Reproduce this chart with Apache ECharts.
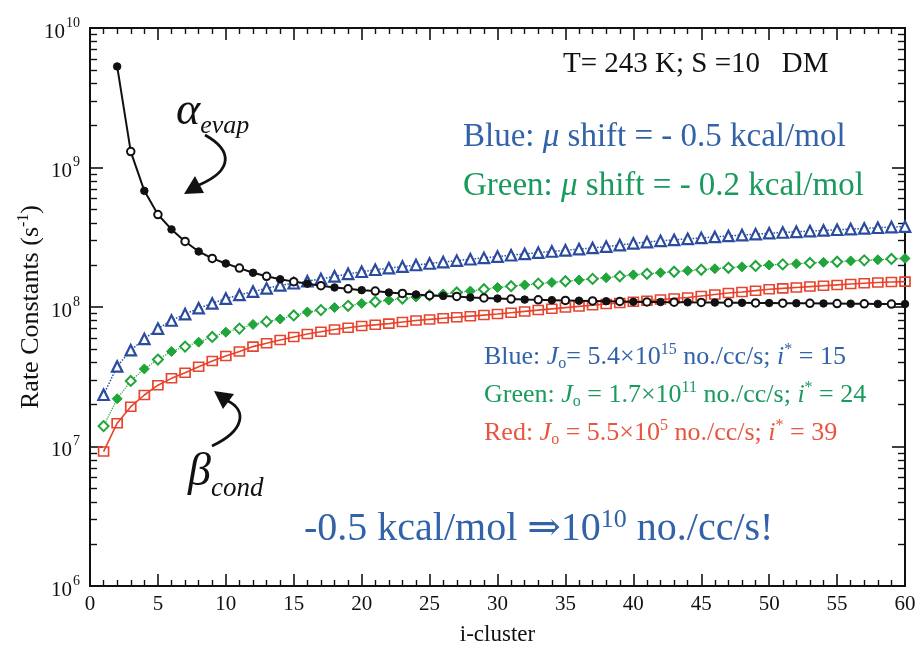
<!DOCTYPE html>
<html>
<head>
<meta charset="utf-8">
<script src="https://cdn.jsdelivr.net/npm/echarts@6/dist/echarts.min.js"></script>
<style>
html,body{margin:0;padding:0;background:#fff;}
#chart{width:916px;height:665px;}
</style>
</head>
<body>
<div id="chart"></div>
<script>
// ---- data ----
const blackStart = 2;
const blackEvap = [5.3e9,1.30e9,6.8e8,4.6e8,3.6e8,2.95e8,2.5e8,2.23e8,2.05e8,1.90e8,
  1.76e8,1.66e8,1.58e8,1.52e8,1.47e8,1.42e8,1.38e8,1.35e8,1.32e8,1.30e8,
  1.27e8,1.25e8,1.23e8,1.21e8,1.20e8,1.19e8,1.17e8,1.16e8,1.15e8,1.14e8,
  1.13e8,1.125e8,1.12e8,1.115e8,1.11e8,1.105e8,1.10e8,1.095e8,1.09e8,
  1.088e8,1.085e8,1.083e8,1.08e8,1.078e8,1.076e8,1.074e8,1.072e8,1.07e8,1.068e8,
  1.066e8,1.064e8,1.062e8,1.06e8,1.058e8,1.056e8,1.054e8,1.052e8,1.05e8,1.05e8];
const condStart = 1;
const blueCond = [2.35e7,3.75e7,4.9e7,5.9e7,7.0e7,8.0e7,8.9e7,9.8e7,1.06e8,1.15e8,
  1.22e8,1.29e8,1.36e8,1.43e8,1.48e8,1.53e8,1.59e8,1.66e8,1.73e8,1.79e8,
  1.85e8,1.90e8,1.95e8,2.0e8,2.05e8,2.10e8,2.15e8,2.20e8,2.25e8,2.30e8,
  2.35e8,2.40e8,2.45e8,2.50e8,2.55e8,2.60e8,2.65e8,2.71e8,2.78e8,2.86e8,
  2.92e8,2.98e8,3.03e8,3.08e8,3.13e8,3.18e8,3.23e8,3.28e8,3.33e8,3.38e8,
  3.42e8,3.46e8,3.50e8,3.54e8,3.58e8,3.62e8,3.66e8,3.70e8,3.74e8,3.77e8];
const greenCond = [1.40e7,2.2e7,2.95e7,3.6e7,4.2e7,4.8e7,5.2e7,5.6e7,6.1e7,6.6e7,
  7.0e7,7.5e7,7.85e7,8.2e7,8.7e7,9.2e7,9.5e7,9.9e7,1.02e8,1.06e8,
  1.09e8,1.12e8,1.15e8,1.18e8,1.21e8,1.24e8,1.27e8,1.30e8,1.34e8,1.38e8,
  1.41e8,1.44e8,1.47e8,1.50e8,1.53e8,1.56e8,1.59e8,1.62e8,1.66e8,1.70e8,
  1.73e8,1.76e8,1.79e8,1.82e8,1.85e8,1.88e8,1.91e8,1.94e8,1.97e8,2.00e8,
  2.02e8,2.04e8,2.07e8,2.09e8,2.11e8,2.14e8,2.16e8,2.18e8,2.21e8,2.23e8];
const redCond = [9.2e6,1.47e7,1.93e7,2.34e7,2.75e7,3.08e7,3.38e7,3.73e7,4.1e7,4.45e7,
  4.8e7,5.2e7,5.5e7,5.8e7,6.1e7,6.4e7,6.65e7,6.9e7,7.1e7,7.3e7,
  7.45e7,7.6e7,7.8e7,8.0e7,8.15e7,8.3e7,8.45e7,8.6e7,8.75e7,8.9e7,
  9.1e7,9.3e7,9.5e7,9.7e7,9.9e7,1.01e8,1.03e8,1.05e8,1.07e8,1.09e8,
  1.11e8,1.13e8,1.15e8,1.17e8,1.20e8,1.23e8,1.26e8,1.28e8,1.31e8,1.34e8,
  1.36e8,1.38e8,1.40e8,1.42e8,1.44e8,1.46e8,1.48e8,1.50e8,1.51e8,1.52e8];
const yMajorTicks = [1e6, 1e7, 1e8, 1e9, 1e10];
const yMinorMultipliers = [2,3,4,5,6,7,8,9];

// ---- styling ----
const FONT = '"Liberation Serif","DejaVu Serif",serif';
const C_BLUE_M = '#2a4b9e', C_BLUE_T = '#3262a8';
const C_GREEN_M = '#1fa53a', C_GREEN_T = '#1a9a5c';
const C_RED_M = '#e8432d', C_RED_T = '#e8553e';

const yMinorTicks = [];
yMajorTicks.slice(0, -1).forEach(d => yMinorMultipliers.forEach(m => yMinorTicks.push(m * d)));

function pts(start, arr, styleFn) {
  return arr.map((v, k) => {
    const o = { value: [start + k, v] };
    if (styleFn) Object.assign(o, styleFn(k));
    return o;
  });
}

const chart = echarts.init(document.getElementById('chart'), null, { renderer: 'canvas' });

const xCommon = {
  type: 'value', min: 0, max: 60, interval: 5,
  splitLine: { show: false },
  axisLine: { show: true, onZero: false, lineStyle: { color: '#111', width: 2 } },
  axisTick: { show: true, inside: true, length: 12, lineStyle: { color: '#111', width: 1.6 } },
  minorTick: { show: true, splitNumber: 5, length: 6, lineStyle: { color: '#111', width: 1.4 } },
  minorSplitLine: { show: false }
};
const yCommon = {
  type: 'log', logBase: 10, min: 1e6, max: 1e10,
  splitLine: { show: false },
  axisLine: { show: true, onZero: false, lineStyle: { color: '#111', width: 2 } }
};

function jText(prefix, mant, exp, istar, color, y) {
  return { type: 'text', x: 484, y: y, z: 10, style: {
    text: prefix + ' {i|J}{sub|o}' + mant + '{sup|' + exp + '} no./cc/s; {i|i}{sup|*} = ' + istar,
    fontFamily: FONT, fontSize: 26, fill: color,
    rich: {
      i: { fontStyle: 'italic', fontFamily: FONT, fontSize: 26, fill: color },
      sub: { fontFamily: FONT, fontSize: 16, fill: color, padding: [14, 0, 0, 0] },
      sup: { fontFamily: FONT, fontSize: 16, fill: color, padding: [0, 0, 14, 0] }
    } } };
}

const option = {
  animation: false,
  backgroundColor: '#fff',
  grid: { left: 90, right: 11, top: 28, bottom: 79, containLabel: false, outerBoundsMode: 'none' },
  xAxis: [
    Object.assign({}, xCommon, {
      position: 'bottom',
      name: 'i-cluster', nameLocation: 'middle', nameGap: 37, nameMoveOverlap: false,
      nameTextStyle: { fontFamily: FONT, fontSize: 23, color: '#111' },
      axisLabel: { show: true, margin: 8, fontFamily: FONT, fontSize: 21, color: '#111' }
    }),
    Object.assign({}, xCommon, { position: 'top', axisLabel: { show: false } })
  ],
  yAxis: [
    Object.assign({}, yCommon, {
      position: 'left',
      name: 'Rate Constants (s{s|-1})', nameLocation: 'middle', nameGap: 44, nameRotate: 90,
      nameMoveOverlap: false,
      nameTextStyle: {
        fontFamily: FONT, fontSize: 26, color: '#111',
        rich: { s: { fontFamily: FONT, fontSize: 16, color: '#111', padding: [0, 0, 14, 0] } }
      },
      axisTick: { show: true, inside: true, length: 13, customValues: yMajorTicks, lineStyle: { color: '#111', width: 1.6 } },
      axisLabel: {
        show: true, margin: 10, customValues: yMajorTicks,
        formatter: v => '{b|10}{s|' + Math.round(Math.log10(v)) + '}',
        rich: {
          b: { fontFamily: FONT, fontSize: 21, color: '#111', padding: [8, 0, 0, 0] },
          s: { fontFamily: FONT, fontSize: 14, color: '#111', padding: [0, 0, 10, 1] }
        }
      }
    }),
    Object.assign({}, yCommon, {
      position: 'left',
      axisTick: { show: true, inside: true, length: 7, customValues: yMinorTicks, lineStyle: { color: '#111', width: 1.4 } },
      axisLabel: { show: false }
    }),
    Object.assign({}, yCommon, {
      position: 'right',
      axisTick: { show: true, inside: true, length: 13, customValues: yMajorTicks, lineStyle: { color: '#111', width: 1.6 } },
      axisLabel: { show: false }
    }),
    Object.assign({}, yCommon, {
      position: 'right',
      axisTick: { show: true, inside: true, length: 7, customValues: yMinorTicks, lineStyle: { color: '#111', width: 1.4 } },
      axisLabel: { show: false }
    })
  ],
  series: [
    {
      name: 'alpha_evap', type: 'line', xAxisIndex: 0, yAxisIndex: 0,
      data: pts(blackStart, blackEvap, k => ({
        itemStyle: k % 2 === 0 ? { color: '#111', borderColor: '#111', borderWidth: 1 } : { color: '#fff', borderColor: '#111', borderWidth: 2 }
      })),
      symbol: 'circle', symbolSize: 7.5, showAllSymbol: true,
      lineStyle: { color: '#111', width: 2 }, z: 3
    },
    {
      name: 'blue', type: 'line', xAxisIndex: 0, yAxisIndex: 0,
      data: pts(condStart, blueCond),
      symbol: 'triangle', symbolSize: 10.5, showAllSymbol: true,
      itemStyle: { color: '#fff', borderColor: C_BLUE_M, borderWidth: 2.2 },
      lineStyle: { color: C_BLUE_M, width: 1.5, type: 'dotted' }, z: 2
    },
    {
      name: 'green', type: 'line', xAxisIndex: 0, yAxisIndex: 0,
      data: pts(condStart, greenCond, k => ({
        itemStyle: k % 2 === 1 ? { color: C_GREEN_M, borderColor: C_GREEN_M, borderWidth: 1 } : { color: '#fff', borderColor: C_GREEN_M, borderWidth: 2 }
      })),
      symbol: 'diamond', symbolSize: 10, showAllSymbol: true,
      lineStyle: { color: C_GREEN_M, width: 1.2, type: 'dotted' }, z: 2
    },
    {
      name: 'red', type: 'line', xAxisIndex: 0, yAxisIndex: 0,
      data: pts(condStart, redCond),
      symbol: 'rect', symbolSize: [10, 9], showAllSymbol: true,
      itemStyle: { color: 'transparent', borderColor: C_RED_M, borderWidth: 1.6 },
      lineStyle: { color: C_RED_M, width: 1.6 }, z: 2
    }
  ],
  graphic: [
    { type: 'text', x: 563, y: 50, z: 10, style: { text: 'T= 243 K; S =10   DM', fontFamily: FONT, fontSize: 29, fill: '#111' } },
    { type: 'text', x: 463, y: 121, z: 10, style: {
        text: 'Blue: {i|μ} shift = - 0.5 kcal/mol', fontFamily: FONT, fontSize: 33, fill: C_BLUE_T,
        rich: { i: { fontStyle: 'italic', fontFamily: FONT, fontSize: 33, fill: C_BLUE_T } } } },
    { type: 'text', x: 463, y: 170, z: 10, style: {
        text: 'Green: {i|μ} shift = - 0.2 kcal/mol', fontFamily: FONT, fontSize: 33, fill: C_GREEN_T,
        rich: { i: { fontStyle: 'italic', fontFamily: FONT, fontSize: 33, fill: C_GREEN_T } } } },
    jText('Blue:', '= 5.4×10', '15', '15', C_BLUE_T, 342),
    jText('Green:', ' = 1.7×10', '11', '24', C_GREEN_T, 380),
    jText('Red:', ' = 5.5×10', '5', '39', C_RED_T, 418),
    { type: 'text', x: 304, y: 507, z: 10, style: {
        text: '-0.5 kcal/mol ⇒10{sup|10} no./cc/s!', fontFamily: FONT, fontSize: 40, fill: C_BLUE_T,
        rich: { sup: { fontFamily: FONT, fontSize: 26, fill: C_BLUE_T, padding: [0, 0, 18, 0] } } } },
    { type: 'text', x: 176, y: 85, z: 10, style: {
        text: '{a|α}{s|evap}', fill: '#111',
        rich: {
          a: { fontFamily: FONT, fontStyle: 'italic', fontSize: 46, fill: '#111' },
          s: { fontFamily: FONT, fontStyle: 'italic', fontSize: 26, fill: '#111', padding: [28, 0, 0, 0] }
        } } },
    { type: 'text', x: 188, y: 444, z: 10, style: {
        text: '{a|β}{s|cond}', fill: '#111',
        rich: {
          a: { fontFamily: FONT, fontStyle: 'italic', fontSize: 46, fill: '#111' },
          s: { fontFamily: FONT, fontStyle: 'italic', fontSize: 27, fill: '#111', padding: [31, 0, 0, 0] }
        } } },
    { type: 'bezierCurve', z: 10,
      shape: { x1: 205, y1: 135, cpx1: 232, cpy1: 150, cpx2: 234, cpy2: 170, x2: 199, y2: 185 },
      style: { stroke: '#111', lineWidth: 2.8, fill: null } },
    { type: 'polygon', z: 10, shape: { points: [[184, 194], [204, 193], [195, 176]] }, style: { fill: '#111' } },
    { type: 'bezierCurve', z: 10,
      shape: { x1: 212, y1: 446, cpx1: 246, cpy1: 430, cpx2: 246, cpy2: 410, x2: 228, y2: 401 },
      style: { stroke: '#111', lineWidth: 2.8, fill: null } },
    { type: 'polygon', z: 10, shape: { points: [[214, 391], [234, 394], [223, 409]] }, style: { fill: '#111' } }
  ]
};
chart.setOption(option);
</script>
</body>
</html>
